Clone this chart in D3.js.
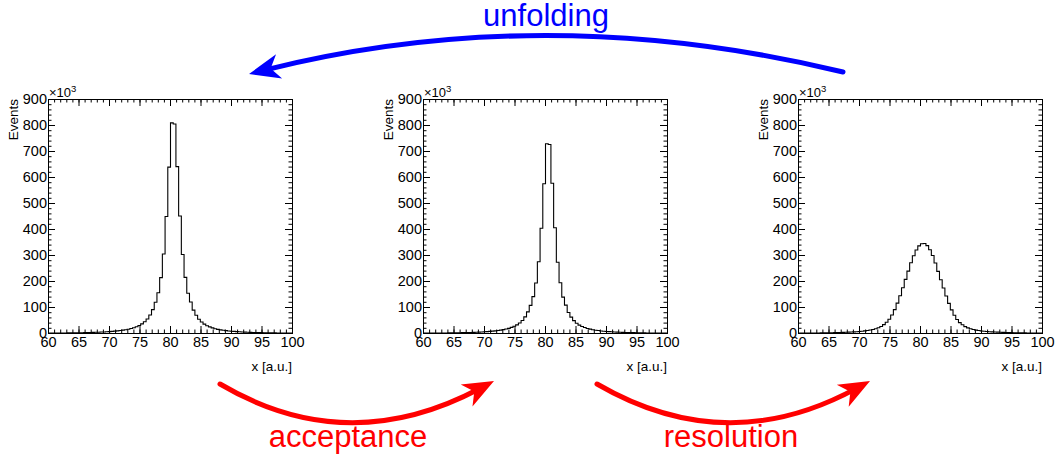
<!DOCTYPE html>
<html lang="en">
<head>
  <meta charset="UTF-8">
  <title>Unfolding</title>
  <script src="https://cdn.jsdelivr.net/npm/d3@7"></script>
  <style>
    body { margin: 0; background: white; }
    svg { display: block; }
  </style>
</head>
<body>
  <div id="chart"></div>
  <script>
    // histogram binning: 90 bins between 60 and 100
    const xLow = 60
    const xHigh = 100
    const nBins = 90

    const xTicks = [60, 65, 70, 75, 80, 85, 90, 95, 100]
    const yTicks = [0, 100, 200, 300, 400, 500, 600, 700, 800, 900]

    // events per bin, in units of 10^3
    const truthCounts = [
      1.5, 1.6, 1.7, 1.8, 1.9, 2.0, 2.2, 2.3, 2.4, 2.6,
      2.7, 2.9, 3.1, 3.4, 3.6, 3.9, 4.2, 4.6, 5.0, 5.5,
      6.0, 6.6, 7.3, 8.1, 9.0, 10, 11.3, 12.8, 14.5, 16.5,
      19, 22, 26, 31, 37, 45, 56, 71, 92, 120,
      157, 215, 306, 450, 640, 810, 806, 642, 452, 304,
      216, 155, 121, 90, 70, 55, 44, 36, 30, 25.5,
      21.5, 18.5, 16, 14, 12.5, 11, 9.8, 8.8, 8.0, 7.2,
      6.5, 5.9, 5.4, 4.9, 4.5, 4.1, 3.8, 3.5, 3.3, 3.0,
      2.8, 2.6, 2.5, 2.3, 2.2, 2.1, 1.9, 1.8, 1.7, 1.6
    ]

    const acceptedCounts = [
      1.35, 1.45, 1.5, 1.6, 1.7, 1.8, 2.0, 2.1, 2.2, 2.3,
      2.4, 2.6, 2.8, 3.0, 3.2, 3.5, 3.8, 4.1, 4.5, 5.0,
      5.4, 5.9, 6.6, 7.3, 8.1, 9.0, 10.2, 11.5, 13, 14.9,
      17.1, 19.8, 23.4, 28, 33.3, 40.5, 50, 64, 83, 108,
      142, 194, 276, 405, 576, 730, 727, 578, 407, 274,
      195, 140, 109, 81, 63, 49.5, 39.6, 32.4, 27, 23,
      19.4, 16.7, 14.4, 12.6, 11.3, 9.9, 8.8, 7.9, 7.2, 6.5,
      5.9, 5.3, 4.9, 4.4, 4.1, 3.7, 3.4, 3.2, 3.0, 2.7,
      2.5, 2.3, 2.2, 2.1, 1.9, 1.8, 1.7, 1.6, 1.5, 1.4
    ]

    const smearedCounts = [
      1.5, 1.6, 1.7, 1.8, 1.9, 2.0, 2.1, 2.2, 2.3, 2.5,
      2.7, 2.9, 3.1, 3.3, 3.6, 3.9, 4.3, 4.7, 5.2, 5.7,
      6.3, 7.0, 7.8, 8.8, 10, 11.5, 13.3, 15.5, 18.5, 22,
      27, 34, 43, 55, 71, 92, 117, 145, 176, 208,
      240, 272, 299, 321, 337, 345, 346, 338, 322, 300,
      271, 239, 207, 175, 144, 116, 91, 70, 54, 42,
      33.5, 26.5, 21.5, 18, 15.2, 13, 11.3, 9.9, 8.7, 7.7,
      6.9, 6.2, 5.6, 5.1, 4.7, 4.3, 3.9, 3.6, 3.3, 3.1,
      2.9, 2.7, 2.5, 2.3, 2.2, 2.1, 2.0, 1.9, 1.8, 1.7
    ]

    const panelCounts = [truthCounts, acceptedCounts, smearedCounts]

    const width = 1056
    const height = 459
    const panelLeft = [48, 423, 798]
    const panelWidth = 244
    const panelTop = 99
    const panelBottom = 333
    const labelFont = 'Liberation Sans, Arial, Helvetica, sans-serif'

    const svg = d3.select('#chart')
      .append('svg')
      .attr('width', width)
      .attr('height', height)

    const yScale = d3.scaleLinear()
      .domain([0, 900])
      .range([panelBottom, panelTop])

    const binWidth = (xHigh - xLow) / nBins

    panelCounts.forEach((counts, p) => {
      const x0 = panelLeft[p]
      const xScale = d3.scaleLinear()
        .domain([xLow, xHigh])
        .range([x0, x0 + panelWidth])

      const g = svg.append('g')

      // histogram outline
      const pts = counts.map((c, i) => [xLow + i * binWidth, c])
      pts.push([xHigh, counts[counts.length - 1]])
      const line = d3.line()
        .x(d => xScale(d[0]) + 0.5)
        .y(d => yScale(d[1]) + 0.5)
        .curve(d3.curveStepAfter)
      g.append('path')
        .attr('d', line(pts))
        .attr('fill', 'none')
        .attr('stroke', '#000')
        .attr('stroke-width', 1.1)

      // frame
      g.append('rect')
        .attr('x', x0 + 0.5)
        .attr('y', panelTop + 0.5)
        .attr('width', panelWidth)
        .attr('height', panelBottom - panelTop)
        .attr('fill', 'none')
        .attr('stroke', '#000')

      const xMinor = d3.range(xLow, xHigh + 1, 1)
      const yMinor = d3.range(0, 901, 20)

      const addAxis = (axis, tx, ty, labels) => {
        const a = g.append('g')
          .attr('transform', `translate(${tx}, ${ty})`)
          .call(axis)
        a.select('.domain').remove()
        a.selectAll('text')
          .attr('font-family', labelFont)
          .attr('font-size', 14.5)
          .attr('fill', '#000')
        if (!labels) a.selectAll('text').remove()
        return a
      }

      // bottom / top ticks
      addAxis(d3.axisBottom(xScale).tickValues(xMinor).tickSize(-3.5).tickFormat(''), 0, panelBottom, false)
      addAxis(d3.axisBottom(xScale).tickValues(xTicks).tickSize(-7).tickPadding(3.5).tickFormat(d3.format('d')), 0, panelBottom, true)
      addAxis(d3.axisTop(xScale).tickValues(xMinor).tickSize(-3.5).tickFormat(''), 0, panelTop, false)
      addAxis(d3.axisTop(xScale).tickValues(xTicks).tickSize(-7).tickFormat(''), 0, panelTop, false)

      // left / right ticks
      addAxis(d3.axisLeft(yScale).tickValues(yMinor).tickSize(-3.5).tickFormat(''), x0, 0, false)
      addAxis(d3.axisLeft(yScale).tickValues(yTicks).tickSize(-7).tickPadding(1).tickFormat(d3.format('d')), x0, 0, true)
      addAxis(d3.axisRight(yScale).tickValues(yMinor).tickSize(-3.5).tickFormat(''), x0 + panelWidth, 0, false)
      addAxis(d3.axisRight(yScale).tickValues(yTicks).tickSize(-7).tickFormat(''), x0 + panelWidth, 0, false)

      // exponent
      const expo = g.append('text')
        .attr('x', x0 + 1)
        .attr('y', panelTop - 2)
        .attr('font-family', labelFont)
        .attr('font-size', 13)
        .text('×10')
      expo.append('tspan')
        .attr('font-size', 9.5)
        .attr('dy', -5)
        .text('3')

      // axis titles
      g.append('text')
        .attr('transform', `translate(${x0 - 30}, ${panelTop}) rotate(-90)`)
        .attr('text-anchor', 'end')
        .attr('font-family', labelFont)
        .attr('font-size', 13.5)
        .text('Events')

      g.append('text')
        .attr('x', x0 + panelWidth)
        .attr('y', 371)
        .attr('text-anchor', 'end')
        .attr('font-family', labelFont)
        .attr('font-size', 13.5)
        .text('x [a.u.]')
    })

    // curved arrows between the panels
    const arrows = [
      { from: [843, 72], ctrl: [545, 0], to: [249, 74], color: '#0000ff' },
      { from: [220, 384], ctrl: [347, 459], to: [494, 381], color: '#ff0000' },
      { from: [597, 384], ctrl: [726, 459], to: [870, 381], color: '#ff0000' }
    ]

    arrows.forEach(a => {
      const dx = a.to[0] - a.ctrl[0]
      const dy = a.to[1] - a.ctrl[1]
      const len = Math.hypot(dx, dy)
      const ux = dx / len
      const uy = dy / len
      const px = -uy
      const py = ux
      const headLen = 31
      const headW = 12.5
      const end = [a.to[0] - ux * 16, a.to[1] - uy * 16]

      const path = d3.path()
      path.moveTo(a.from[0], a.from[1])
      path.quadraticCurveTo(a.ctrl[0], a.ctrl[1], end[0], end[1])
      svg.append('path')
        .attr('d', path.toString())
        .attr('fill', 'none')
        .attr('stroke', a.color)
        .attr('stroke-width', 5)
        .attr('stroke-linecap', 'round')

      const head = [
        a.to,
        [a.to[0] - ux * headLen + px * headW, a.to[1] - uy * headLen + py * headW],
        [a.to[0] - ux * headLen * 0.72, a.to[1] - uy * headLen * 0.72],
        [a.to[0] - ux * headLen - px * headW, a.to[1] - uy * headLen - py * headW]
      ]
      svg.append('path')
        .attr('d', d3.line()(head) + 'Z')
        .attr('fill', a.color)
    })

    const captions = [
      { text: 'unfolding', x: 546, y: 26, color: '#0000ff' },
      { text: 'acceptance', x: 348, y: 447, color: '#ff0000' },
      { text: 'resolution', x: 731, y: 447, color: '#ff0000' }
    ]

    svg.selectAll('text.caption')
      .data(captions)
      .enter()
      .append('text')
      .attr('class', 'caption')
      .attr('x', d => d.x)
      .attr('y', d => d.y)
      .attr('text-anchor', 'middle')
      .attr('font-family', labelFont)
      .attr('font-size', 31)
      .attr('fill', d => d.color)
      .text(d => d.text)
  </script>
</body>
</html>
